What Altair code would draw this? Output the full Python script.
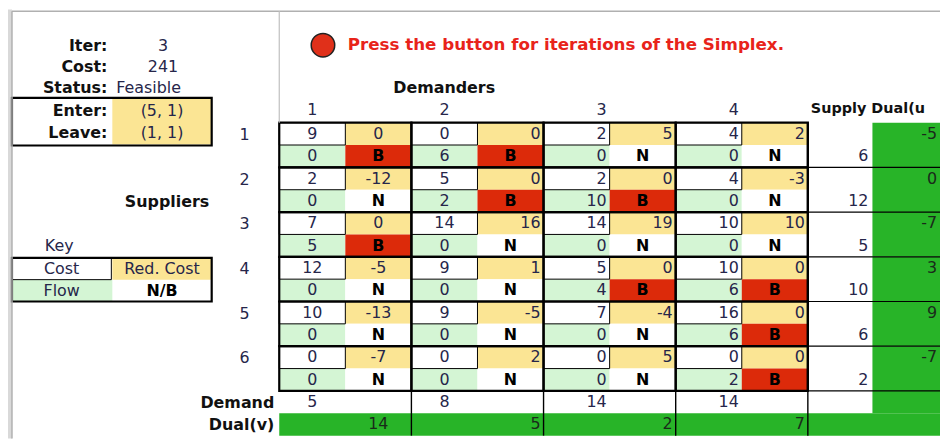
import altair as alt
import pandas as pd

# ---------------- data ----------------
demanders = ["1", "2", "3", "4"]
suppliers = ["1", "2", "3", "4", "5", "6"]
costs = [[9, 0, 2, 4], [2, 5, 2, 4], [7, 14, 14, 10], [12, 9, 5, 10], [10, 9, 7, 16], [0, 0, 0, 0]]
red_costs = [[0, 0, 5, 2], [-12, 0, 0, -3], [0, 16, 19, 10], [-5, 1, 0, 0], [-13, -5, -4, 0], [-7, 2, 5, 0]]
flows = [[0, 6, 0, 0], [0, 2, 10, 0], [5, 0, 0, 0], [0, 0, 4, 6], [0, 0, 0, 6], [0, 0, 0, 2]]
basis = [["B", "B", "N", "N"], ["N", "B", "B", "N"], ["B", "N", "N", "N"],
         ["N", "N", "B", "B"], ["N", "N", "N", "B"], ["N", "N", "N", "B"]]
supply = [6, 12, 5, 10, 6, 2]
dual_u = [-5, 0, -7, 3, 9, -7]
demand = [5, 8, 14, 14]
dual_v = [14, 5, 2, 7]
status_labels = ["Iter:", "Cost:", "Status:", "Enter:", "Leave:"]
status_values = ["3", "241", "Feasible", "(5, 1)", "(1, 1)"]
title_text = "Press the button for iterations of the Simplex."
side_header = "Supply Dual(u"

# ---------------- layout ----------------
W, H = 938, 432
XD = [8, 8 + W]
YD = [8, 8 + H]
xs = alt.Scale(domain=XD, nice=False, zero=False)
ys = alt.Scale(domain=YD, nice=False, zero=False, reverse=True)

X0, CW = 281, 66.5
Y0, RH = 122, 22.5
SX0, SX1, DX1 = 813, 878, 946
YELLOW = "#fbe594"
LGREEN = "#d4f5d4"
RED = "#dc2a0a"
GREEN = "#28b428"
NAVY = "#26264a"
FONT = "DejaVu Sans"
FS = 16
cost_align = ["center", "center", "right", "right"]
red_align = ["center", "right", "right", "right"]

fills, thin, thick, rules, texts = [], [], [], [], []


def cell(x0, x1, y0, y1, fill):
    fills.append(dict(x0=x0, x1=x1, y0=y0, y1=y1, fill=fill))


def txt(x, y, t, align="center", bold=False, size=FS, color=NAVY):
    texts.append(dict(x=x, y=y, t=str(t), align=align, bold=bold, size=size, color=color))


def anchor(x0, x1, align):
    return (x0 + x1) / 2 if align == "center" else x1 - 3


# frame
cell(8, 12, 8, 8 + H, "#d9d9d9")
rules.append(dict(x0=12, x1=DX1, y0=10, y1=10, c="#b0b0b0", w=1.5))
rules.append(dict(x0=12, x1=12, y0=10, y1=8 + H, c="#b0b0b0", w=1.5))
rules.append(dict(x0=X0, x1=X0, y0=10, y1=Y0, c="#c0c0c0", w=1.2))

# main grid
for i in range(len(suppliers)):
    yc0 = Y0 + 2 * i * RH
    for j in range(len(demanders)):
        cx0 = X0 + 2 * j * CW
        cx1 = cx0 + CW
        rx1 = cx1 + CW
        cell(cx0, cx1, yc0, yc0 + RH, "white")
        cell(cx1, rx1, yc0, yc0 + RH, YELLOW)
        cell(cx0, cx1, yc0 + RH, yc0 + 2 * RH, LGREEN)
        cell(cx1, rx1, yc0 + RH, yc0 + 2 * RH, RED if basis[i][j] == "B" else "white")
        thin.append(dict(x0=cx0, x1=cx1, y0=yc0, y1=yc0 + RH))
        thick.append(dict(x0=cx0, x1=rx1, y0=yc0, y1=yc0 + 2 * RH))
        a = cost_align[j]
        txt(anchor(cx0, cx1, a), yc0 + RH / 2, costs[i][j], a)
        txt(anchor(cx0, cx1, a), yc0 + 1.5 * RH, flows[i][j], a)
        b = red_align[j]
        txt(anchor(cx1, rx1, b), yc0 + RH / 2, red_costs[i][j], b)
        txt((cx1 + rx1) / 2, yc0 + 1.5 * RH, basis[i][j], "center", bold=True, color="black")
    # supply / dual(u)
    cell(SX0, SX1, yc0, yc0 + 2 * RH, "white")
    cell(SX1, DX1, yc0, yc0 + 2 * RH, GREEN)
    txt(SX1 - 4, yc0 + 1.5 * RH, supply[i], "right")
    txt(DX1 - 3, yc0 + RH / 2, dual_u[i], "right", color="#1a2a1a")
    if i > 0:
        rules.append(dict(x0=SX0, x1=DX1, y0=yc0, y1=yc0, c="black", w=1.2))
    txt(246, yc0 + RH / 2 + 1, suppliers[i], "center")

# demand / dual(v) rows
yd0 = Y0 + 12 * RH
cell(X0, SX1, yd0, yd0 + RH, "white")
cell(SX1, DX1, yd0, yd0 + RH, GREEN)
cell(X0, DX1, yd0 + RH, yd0 + 2 * RH, GREEN)
rules.append(dict(x0=SX0, x1=DX1, y0=yd0, y1=yd0, c="black", w=1.2))
for j in range(len(demanders)):
    cx0 = X0 + 2 * j * CW
    cx1 = cx0 + CW
    rx1 = cx1 + CW
    rules.append(dict(x0=rx1, x1=rx1, y0=yd0, y1=yd0 + 2 * RH, c="black", w=1.4))
    a = cost_align[j]
    txt(anchor(cx0, cx1, a), yd0 + RH / 2, demand[j], a)
    b = red_align[j]
    txt(anchor(cx1, rx1, b), yd0 + 1.5 * RH, dual_v[j], b, color="#1a2a1a")
    txt(anchor(cx0, cx1, a), 109, demanders[j], a)
rules.append(dict(x0=SX0, x1=SX0, y0=Y0, y1=yd0, c="black", w=2.2))

# headers
txt(447, 87, "Demanders", "center", bold=True, color="#111")
txt(816, 108, side_header, "left", bold=True, size=14.5, color="#111")
txt(350, 44, title_text, "left", bold=True, size=16.8, color="#e8231a")
txt(276, 404, "Demand", "right", bold=True, color="#111")
txt(276, 426, "Dual(v)", "right", bold=True, color="#111")

# left panel
label_y = [45, 66, 87, 110, 132]
for k in range(len(status_labels)):
    txt(108, label_y[k], status_labels[k], "right", bold=True, color="#111")
val_pos = [(164, "center"), (164, "center"), (117, "left"), (163, "center"), (163, "center")]
for k in range(len(status_values)):
    txt(val_pos[k][0], label_y[k], status_values[k], val_pos[k][1])
cell(113, 213, 98, 144, YELLOW)
thick.append(dict(x0=12, x1=213, y0=97, y1=145))
txt(168, 202, "Suppliers", "center", bold=True, color="#111")
txt(45, 246, "Key", "left")
cell(113, 213, 258, 280, YELLOW)
cell(12, 113, 280, 302, LGREEN)
thin.append(dict(x0=12, x1=112, y0=258, y1=280))
thick.append(dict(x0=12, x1=213, y0=258, y1=302))
txt(62, 269, "Cost", "center")
txt(163, 269, "Red. Cost", "center")
txt(62, 291, "Flow", "center")
txt(163, 291, "N/B", "center", bold=True, color="black")

circle = pd.DataFrame([dict(x=325, y=44)])

# ---------------- chart ----------------
def xy_rect():
    return dict(x=alt.X("x0:Q", scale=xs, axis=None), x2="x1:Q",
                y=alt.Y("y0:Q", scale=ys, axis=None), y2="y1:Q")


layers = []
layers.append(alt.Chart(pd.DataFrame(fills)).mark_rect(strokeWidth=0).encode(
    fill=alt.Fill("fill:N", scale=None), **xy_rect()))
layers.append(alt.Chart(pd.DataFrame(thin)).mark_rect(
    fillOpacity=0, stroke="black", strokeWidth=1).encode(**xy_rect()))
layers.append(alt.Chart(pd.DataFrame(thick)).mark_rect(
    fillOpacity=0, stroke="black", strokeWidth=2.2).encode(**xy_rect()))
layers.append(alt.Chart(pd.DataFrame(rules)).mark_rule().encode(
    x=alt.X("x0:Q", scale=xs, axis=None), x2="x1:Q",
    y=alt.Y("y0:Q", scale=ys, axis=None), y2="y1:Q",
    color=alt.Color("c:N", scale=None), strokeWidth=alt.StrokeWidth("w:Q", scale=None)))
layers.append(alt.Chart(circle).mark_point(
    shape="circle", size=560, filled=True, fill="#e0301a", stroke="#222", strokeWidth=1.5, opacity=1
).encode(x=alt.X("x:Q", scale=xs, axis=None), y=alt.Y("y:Q", scale=ys, axis=None)))

tdf = pd.DataFrame(texts)
for (align, bold), sub in tdf.groupby(["align", "bold"]):
    layers.append(alt.Chart(sub).mark_text(
        align=align, baseline="middle", font=FONT, fontWeight="bold" if bold else "normal"
    ).encode(
        x=alt.X("x:Q", scale=xs, axis=None), y=alt.Y("y:Q", scale=ys, axis=None),
        text="t:N", color=alt.Color("color:N", scale=None), size=alt.Size("size:Q", scale=None)))

chart = alt.layer(*layers).properties(
    width=W, height=H, padding=0, autosize=alt.AutoSizeParams(type="none")
).configure_view(strokeWidth=0)

chart.save("out.html", embed_options={"renderer": "svg", "actions": False})
